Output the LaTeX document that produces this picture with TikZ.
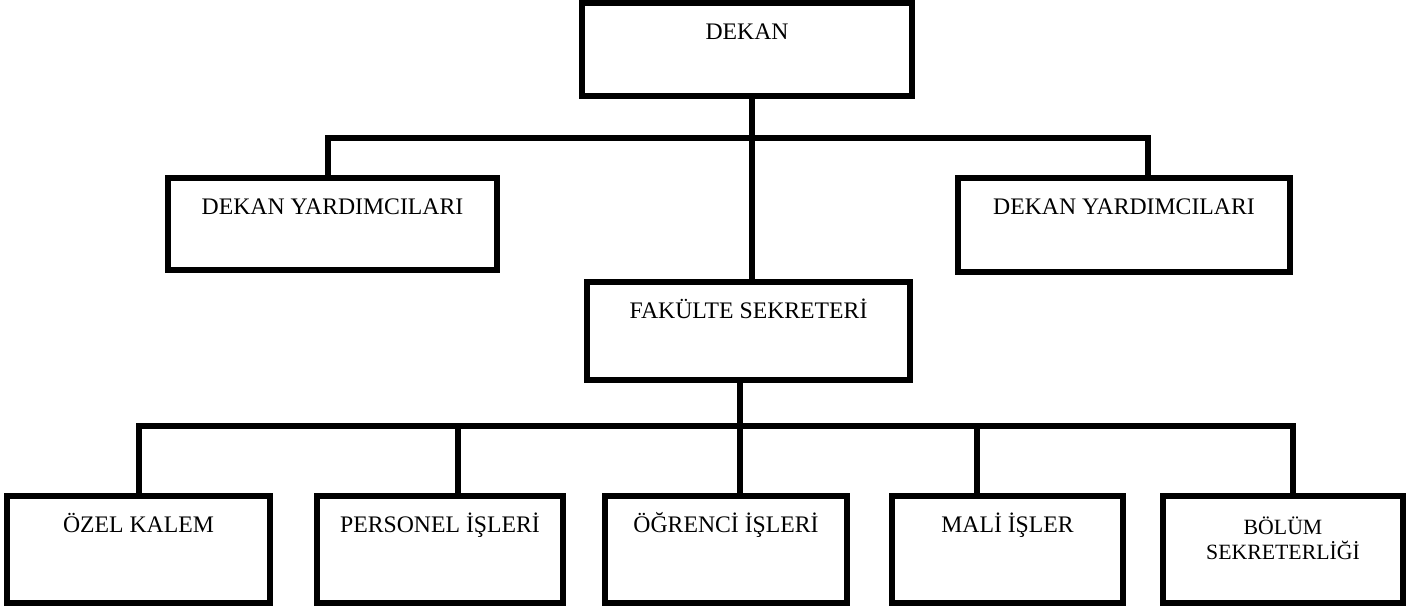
\documentclass[tikz,border=0pt]{standalone}
\usepackage{fontspec}
\setmainfont{Liberation Serif}
\usetikzlibrary{calc}

\tikzset{
  birim/.style={draw,line width=3pt,inner sep=0pt,align=center,
    font=\fontsize{13.5}{16}\selectfont,text height=0.72cm},
  hat/.style={line width=3pt}
}

\begin{document}
\begin{tikzpicture}[x=0.02cm,y=-0.02cm]
            \useasboundingbox (0,0) rectangle (1422,610);

            % ust kademe
            \node[birim,minimum width=6.6cm,minimum height=1.86cm,text depth=1.14cm] (dekan) at (747,49.5) {DEKAN};
            \node[birim,minimum width=6.58cm,minimum height=1.84cm,text depth=1.12cm] (yardL) at (332.5,224) {DEKAN YARDIMCILARI};
            \node[birim,minimum width=6.64cm,minimum height=1.88cm,text depth=1.16cm] (yardR) at (1124,225) {DEKAN YARDIMCILARI};
            \node[birim,minimum width=6.46cm,minimum height=1.96cm,text depth=1.24cm] (fak) at (748.5,331) {FAKÜLTE SEKRETERİ};

            % alt kademe
            \node[birim,minimum width=5.26cm,minimum height=2.14cm,text depth=1.42cm] (ozel) at (138.5,549.5) {ÖZEL KALEM};
            \node[birim,minimum width=4.92cm,minimum height=2.14cm,text depth=1.42cm] (personel) at (440,549.5) {PERSONEL İŞLERİ};
            \node[birim,minimum width=4.84cm,minimum height=2.14cm,text depth=1.42cm] (ogrenci) at (726,549.5) {ÖĞRENCİ İŞLERİ};
            \node[birim,minimum width=4.62cm,minimum height=2.14cm,text depth=1.42cm] (mali) at (1007.5,549.5) {MALİ İŞLER};
            \node[birim,minimum width=4.8cm,minimum height=2.14cm,text height=1.26cm,text depth=0.88cm,
              font=\fontsize{12.4}{13.7}\selectfont] (bolum) at (1283,549.5) {BÖLÜM\\SEKRETERLİĞİ};

            % baglanti noktalari
            \coordinate (dropL) at (328,138);
            \coordinate (dropR) at (1148,138);
            \coordinate (dropA) at (139,426);
            \coordinate (dropB) at (458,426);
            \coordinate (dropC) at (740,426);
            \coordinate (dropD) at (977,426);
            \coordinate (dropE) at (1293,426);

            \draw[hat] (dekan.south -| 752,0) -- (fak.north -| 752,0);
            \draw[hat] (yardL.north -| dropL) |- (dropR) -- (yardR.north -| dropR);
            \draw[hat] (fak.south -| dropC) -- (ogrenci.north -| dropC);
            \draw[hat] (ozel.north -| dropA) |- (dropE) -- (bolum.north -| dropE);
            \draw[hat] (personel.north -| dropB) -- (dropB);
            \draw[hat] (mali.north -| dropD) -- (dropD);
\end{tikzpicture}
\end{document}
